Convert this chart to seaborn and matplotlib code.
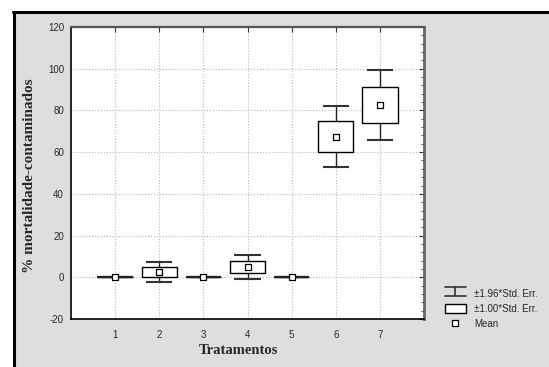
import numpy as np
import matplotlib
matplotlib.use("Agg")
import matplotlib.pyplot as plt
import seaborn as sns
from matplotlib.lines import Line2D
from matplotlib.patches import Rectangle
from matplotlib.legend_handler import HandlerBase
from matplotlib.ticker import MultipleLocator

# dados
tratamentos = [1, 2, 3, 4, 5, 6, 7]
medias = [0.0, 2.5, 0.0, 5.0, 0.0, 67.5, 82.6]
erro_padrao = [0.0, 2.5, 0.0, 2.9, 0.0, 7.5, 8.6]

sns.set_style("white")
plt.rcParams['font.family'] = ['Liberation Sans', 'DejaVu Sans']
plt.rcParams['axes.unicode_minus'] = False

cinza = '#dedede'
fig = plt.figure(figsize=(5.49, 3.67), dpi=100)
fig.patch.set_facecolor('white')

# fundo cinza com borda preta a esquerda e em cima
W, H = 549, 367
fig.patches.append(Rectangle((14 / W, 0), 1, 1 - 13 / H, transform=fig.transFigure,
                             facecolor=cinza, edgecolor='none', zorder=-10))
fig.lines.append(Line2D([14 / W, 14 / W], [0, 1 - 12 / H], transform=fig.transFigure,
                        color='black', lw=2.2))
fig.lines.append(Line2D([13 / W, 1], [1 - 12 / H, 1 - 12 / H], transform=fig.transFigure,
                        color='black', lw=2.2))

ax = fig.add_axes([71 / W, (H - 319) / H, (424 - 71) / W, (319 - 27) / H])
ax.set_facecolor('white')

x = np.array(tratamentos, dtype=float)
m = np.array(medias)
se = np.array(erro_padrao)

# caixas +-1 erro padrao
ax.bar(x, 2 * se, bottom=m - se, width=0.8, facecolor='white', edgecolor='black',
       linewidth=1.0, zorder=3)
zero = se == 0
ax.hlines(m[zero], x[zero] - 0.4, x[zero] + 0.4, color='#222222', lw=1.6, zorder=3)
# bigodes +-1.96 erro padrao
ax.vlines(x, m + se, m + 1.96 * se, color='#222222', lw=1.0, zorder=2)
ax.vlines(x, m - 1.96 * se, m - se, color='#222222', lw=1.0, zorder=2)
ax.hlines(m + 1.96 * se, x - 0.3, x + 0.3, color='#333333', lw=1.5, zorder=2)
ax.hlines(m - 1.96 * se, x - 0.3, x + 0.3, color='#333333', lw=1.5, zorder=2)

# medias
sns.scatterplot(x=x, y=m, marker='s', s=22, color='white', edgecolor='black',
                linewidth=0.9, zorder=5, ax=ax)

ax.set_xlim(0, 8)
ax.set_ylim(-20, 120)
ax.set_xticks(tratamentos)
ax.yaxis.set_major_locator(MultipleLocator(20))
ax.yaxis.set_minor_locator(MultipleLocator(4))
ax.grid(True, which='major', ls=':', color='#b8b8b8', lw=0.8, zorder=0)
ax.tick_params(axis='both', which='both', direction='in', top=True, right=True,
               labelsize=7, color='#333333')
ax.tick_params(axis='both', which='major', length=3.5)
ax.tick_params(axis='both', which='minor', length=2)
ax.tick_params(axis='x', pad=8)
ax.tick_params(axis='y', pad=5)

for lado in ['left', 'bottom']:
    ax.spines[lado].set_color('black')
    ax.spines[lado].set_linewidth(1.2)
ax.spines['top'].set_color('#555555')
ax.spines['top'].set_linewidth(1.6)
ax.spines['right'].set_color('#666666')
ax.spines['right'].set_linewidth(2.0)

ax.set_xlabel('Tratamentos', family='Liberation Serif', fontweight='bold', fontsize=10.5)
ax.set_ylabel('% mortalidade-contaminados', family='Liberation Serif', fontweight='bold',
              fontsize=11)
ax.xaxis.set_label_coords(0.473, -0.085)
ax.yaxis.set_label_coords(-0.099, 0.49)


class Bigode(HandlerBase):
    def create_artists(self, legend, orig, xd, yd, w, h, fontsize, trans):
        y0, y1 = yd, yd + h
        xc = xd + w / 2
        linhas = [Line2D([xd, xd + w], [y1, y1]), Line2D([xd, xd + w], [y0, y0]),
                  Line2D([xc, xc], [y0, y1])]
        for ln in linhas:
            ln.set_color('#333333')
            ln.set_linewidth(1.2)
            ln.set_transform(trans)
        return linhas


h_bigode = Line2D([], [])
h_caixa = Rectangle((0, 0), 1, 1, facecolor='white', edgecolor='black', lw=1.0)
h_media = Line2D([], [], marker='s', ls='none', markersize=4.5, markerfacecolor='white',
                 markeredgecolor='black', markeredgewidth=0.9)
fig.legend([h_bigode, h_caixa, h_media],
           ['±1.96*Std. Err.', '±1.00*Std. Err.', 'Mean'],
           handler_map={h_bigode: Bigode()},
           loc='lower left', bbox_to_anchor=(436 / W, (H - 338) / H),
           frameon=False, fontsize=7, handlelength=2.2, handleheight=1.0,
           handletextpad=0.8, labelspacing=0.55)

plt.savefig('out.png', dpi=100)
